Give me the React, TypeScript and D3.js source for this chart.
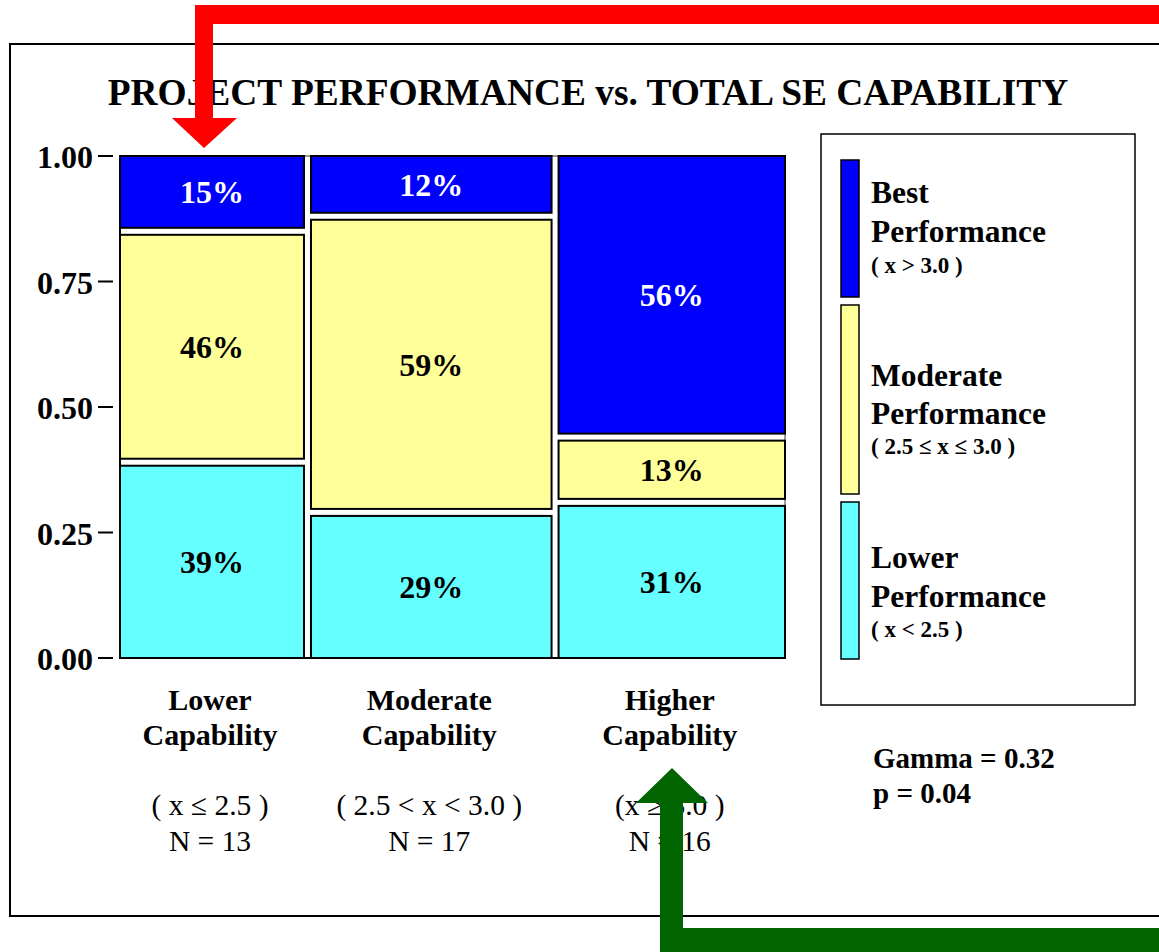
import React from "react";
import * as d3 from "d3";

const catLine1 = ["Lower", "Moderate", "Higher"];
const catLine2 = ["Capability", "Capability", "Capability"];
const ranges = ["( x ≤ 2.5 )", "( 2.5 < x < 3.0 )", "(x ≥ 3.0 )"];
const counts = [13, 17, 16];
const lowerPerf = [39, 29, 31];
const moderatePerf = [46, 59, 13];
const bestPerf = [15, 12, 56];
const yTicks = [0, 0.25, 0.5, 0.75, 1];
const seriesNames = ["Lower", "Moderate", "Best"];
const legendLine1 = ["Best", "Moderate", "Lower"];
const legendLine3 = ["( x > 3.0 )", "( 2.5 ≤ x ≤ 3.0 )", "( x < 2.5 )"];
const colors = { Lower: "#66ffff", Moderate: "#ffff99", Best: "#0000ff" };

const W = 1159, H = 952;
const L = 120, R = 785, T = 156, B = 658;
const COLGAP = 7, SEGGAP = 7;
const SERIF = "'Liberation Serif', 'Times New Roman', serif";

export default function App() {
  const y = d3.scaleLinear().domain([0, 1]).range([B, T]);
  const totalN = d3.sum(counts);
  const xs = d3.scaleLinear().domain([0, totalN]).range([L, R - COLGAP * (counts.length - 1)]);
  const cum = d3.cumsum(counts);
  const cols = counts.map((n, i) => {
    const start = i === 0 ? 0 : cum[i - 1];
    return { x0: xs(start) + i * COLGAP, x1: xs(start + n) + i * COLGAP };
  });
  const seriesVals = [lowerPerf, moderatePerf, bestPerf];
  const segs: any[] = [];
  cols.forEach((c, i) => {
    let acc = 0;
    seriesVals.forEach((vals, s) => {
      const v = vals[i] / 100;
      const lo = acc, hi = acc + v;
      acc = hi;
      const yTop = y(hi) + (s === seriesVals.length - 1 ? 0 : SEGGAP / 2);
      const yBot = y(lo) - (s === 0 ? 0 : SEGGAP / 2);
      segs.push({ key: `${i}-${s}`, x0: c.x0, x1: c.x1, yTop, yBot, name: seriesNames[s], label: `${vals[i]}%` });
    });
  });
  const legendSw = [
    { name: "Best", y0: 160, y1: 297 },
    { name: "Moderate", y0: 305, y1: 494 },
    { name: "Lower", y0: 502, y1: 659 },
  ];
  return (
    <svg width={W} height={H} style={{ position: "absolute", left: 0, top: 0, background: "#fff" }} fontFamily={SERIF}>
      <rect x={0} y={0} width={W} height={H} fill="#fff" />
      <rect x={10} y={44} width={1170} height={872} fill="none" stroke="#000" strokeWidth={2} />
      <text x={588} y={105} textAnchor="middle" fontSize={37.4} fontWeight="bold">PROJECT PERFORMANCE vs. TOTAL SE CAPABILITY</text>

      {/* plot frame */}
      <rect x={L} y={T} width={R - L} height={B - T} fill="none" stroke="#777" strokeWidth={1.5} />
      {segs.map(s => (
        <g key={s.key}>
          <rect x={s.x0} y={s.yTop} width={s.x1 - s.x0} height={s.yBot - s.yTop} fill={(colors as any)[s.name]} stroke="#000" strokeWidth={2} />
          <text x={(s.x0 + s.x1) / 2} y={(s.yTop + s.yBot) / 2} dy="0.35em" textAnchor="middle" fontSize={32} fontWeight="bold" fill={s.name === "Best" ? "#fff" : "#000"}>{s.label}</text>
        </g>
      ))}
      <line x1={L} x2={L} y1={T} y2={B} stroke="#000" strokeWidth={2} />
      <line x1={L} x2={R} y1={B} y2={B} stroke="#000" strokeWidth={2} />

      {yTicks.map(t => (
        <g key={t}>
          <line x1={98} x2={113} y1={y(t)} y2={y(t)} stroke="#000" strokeWidth={2} />
          <text x={93} y={y(t) + 12} textAnchor="end" fontSize={32} fontWeight="bold">{d3.format(".2f")(t)}</text>
        </g>
      ))}

      {cols.map((c, i) => {
        const cx = (c.x0 + c.x1) / 2 - 2;
        return (
          <g key={i}>
            <text x={cx} y={710} textAnchor="middle" fontSize={30} fontWeight="bold">{catLine1[i]}</text>
            <text x={cx} y={745} textAnchor="middle" fontSize={30} fontWeight="bold">{catLine2[i]}</text>
            <text x={cx} y={815} textAnchor="middle" fontSize={29.5}>{ranges[i]}</text>
            <text x={cx} y={851} textAnchor="middle" fontSize={29.5}>{`N = ${counts[i]}`}</text>
          </g>
        );
      })}

      {/* legend */}
      <rect x={821} y={134} width={314} height={571} fill="none" stroke="#000" strokeWidth={1.5} />
      {legendSw.map((l, i) => (
        <g key={l.name}>
          <rect x={841} y={l.y0} width={18} height={l.y1 - l.y0} fill={(colors as any)[l.name]} stroke="#000" strokeWidth={1.5} />
          <text x={871} y={203 + [0, 183, 365][i]} fontSize={31.5} fontWeight="bold">{legendLine1[i]}</text>
          <text x={871} y={242 + [0, 182, 365][i]} fontSize={31.5} fontWeight="bold">Performance</text>
          <text x={871} y={273 + [0, 181, 364][i]} fontSize={23} fontWeight="bold">{legendLine3[i]}</text>
        </g>
      ))}

      <text x={873} y={768} fontSize={29} fontWeight="bold">Gamma = 0.32</text>
      <text x={873} y={803} fontSize={29} fontWeight="bold">p = 0.04</text>

      {/* red arrow */}
      <path d="M195,5 H1159 V24 H213 V118 H237 L204,148 L172,118 H195 Z" fill="#ff0000" />
      {/* green arrow */}
      <path d="M660,952 V803 H636 L672,768 L708,803 H683 V928 H1159 V952 Z" fill="#006400" />
    </svg>
  );
}
